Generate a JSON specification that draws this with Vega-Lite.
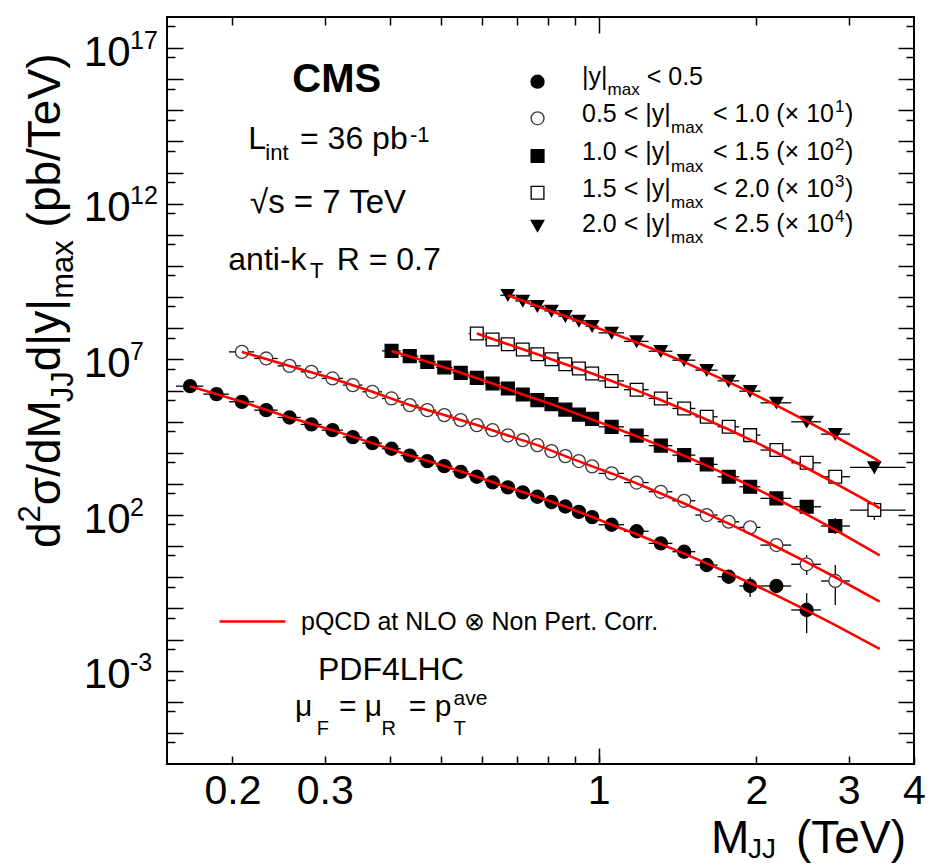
{
"$schema": "https://vega.github.io/schema/vega-lite/v6.json",
"width": 747,
"height": 747,
"autosize": {"type": "none"},
"padding": {"left": 167, "top": 17, "right": 27, "bottom": 102},
"background": "white",
"config": {
  "view": {"stroke": "black", "strokeWidth": 2},
  "font": "Liberation Sans",
  "text": {"font": "Liberation Sans", "color": "black"},
  "axis": {"grid": false, "domain": false, "tickColor": "black", "tickWidth": 1.5, "labelColor": "black", "labelFont": "Liberation Sans", "labelFlush": false, "labelOverlap": false, "labelBound": false}
},
"datasets": {
  "pts": [
    {"s":"s1","x":0.166,"xlo":0.156,"xhi":0.176,"y":1.38e6},
    {"s":"s1","x":0.1865,"xlo":0.176,"xhi":0.197,"y":7.64e5},
    {"s":"s1","x":0.2085,"xlo":0.197,"xhi":0.220,"y":4.33e5},
    {"s":"s1","x":0.232,"xlo":0.220,"xhi":0.244,"y":2.34e5},
    {"s":"s1","x":0.257,"xlo":0.244,"xhi":0.270,"y":1.36e5},
    {"s":"s1","x":0.283,"xlo":0.270,"xhi":0.296,"y":8.13e4},
    {"s":"s1","x":0.3105,"xlo":0.296,"xhi":0.325,"y":5.33e4},
    {"s":"s1","x":0.3395,"xlo":0.325,"xhi":0.354,"y":3.18e4},
    {"s":"s1","x":0.370,"xlo":0.354,"xhi":0.386,"y":2.04e4},
    {"s":"s1","x":0.4025,"xlo":0.386,"xhi":0.419,"y":1.34e4},
    {"s":"s1","x":0.436,"xlo":0.419,"xhi":0.453,"y":8.11e3},
    {"s":"s1","x":0.471,"xlo":0.453,"xhi":0.489,"y":5.40e3},
    {"s":"s1","x":0.5075,"xlo":0.489,"xhi":0.526,"y":3.73e3},
    {"s":"s1","x":0.5455,"xlo":0.526,"xhi":0.565,"y":2.44e3},
    {"s":"s1","x":0.5855,"xlo":0.565,"xhi":0.606,"y":1.69e3},
    {"s":"s1","x":0.6275,"xlo":0.606,"xhi":0.649,"y":1.12e3},
    {"s":"s1","x":0.671,"xlo":0.649,"xhi":0.693,"y":773},
    {"s":"s1","x":0.7165,"xlo":0.693,"xhi":0.740,"y":533},
    {"s":"s1","x":0.764,"xlo":0.740,"xhi":0.788,"y":385},
    {"s":"s1","x":0.813,"xlo":0.788,"xhi":0.838,"y":261},
    {"s":"s1","x":0.864,"xlo":0.838,"xhi":0.890,"y":187},
    {"s":"s1","x":0.917,"xlo":0.890,"xhi":0.944,"y":126},
    {"s":"s1","x":0.972,"xlo":0.944,"xhi":1.000,"y":85.9},
    {"s":"s1","x":1.059,"xlo":1.000,"xhi":1.118,"y":48.6},
    {"s":"s1","x":1.182,"xlo":1.118,"xhi":1.246,"y":30.1},
    {"s":"s1","x":1.3145,"xlo":1.246,"xhi":1.383,"y":12.3},
    {"s":"s1","x":1.4565,"xlo":1.383,"xhi":1.530,"y":6.61},
    {"s":"s1","x":1.6085,"xlo":1.530,"xhi":1.687,"y":2.47},
    {"s":"s1","x":1.7715,"xlo":1.687,"xhi":1.856,"y":1.04},
    {"s":"s1","x":1.9465,"xlo":1.856,"xhi":2.037,"y":0.524},
    {"s":"s1","x":2.1845,"xlo":2.037,"xhi":2.332,"y":0.524},
    {"s":"s1","x":2.4955,"xlo":2.332,"xhi":2.659,"y":0.0889},
    {"s":"s2","x":0.2085,"xlo":0.197,"xhi":0.220,"y":1.74e7},
    {"s":"s2","x":0.232,"xlo":0.220,"xhi":0.244,"y":1.07e7},
    {"s":"s2","x":0.257,"xlo":0.244,"xhi":0.270,"y":6.18e6},
    {"s":"s2","x":0.283,"xlo":0.270,"xhi":0.296,"y":3.97e6},
    {"s":"s2","x":0.3105,"xlo":0.296,"xhi":0.325,"y":2.44e6},
    {"s":"s2","x":0.3395,"xlo":0.325,"xhi":0.354,"y":1.49e6},
    {"s":"s2","x":0.370,"xlo":0.354,"xhi":0.386,"y":9.06e5},
    {"s":"s2","x":0.4025,"xlo":0.386,"xhi":0.419,"y":5.56e5},
    {"s":"s2","x":0.436,"xlo":0.419,"xhi":0.453,"y":3.39e5},
    {"s":"s2","x":0.471,"xlo":0.453,"xhi":0.489,"y":2.34e5},
    {"s":"s2","x":0.5075,"xlo":0.489,"xhi":0.526,"y":1.62e5},
    {"s":"s2","x":0.5455,"xlo":0.526,"xhi":0.565,"y":1.12e5},
    {"s":"s2","x":0.5855,"xlo":0.565,"xhi":0.606,"y":7.73e4},
    {"s":"s2","x":0.6275,"xlo":0.606,"xhi":0.649,"y":5.33e4},
    {"s":"s2","x":0.671,"xlo":0.649,"xhi":0.693,"y":3.61e4},
    {"s":"s2","x":0.7165,"xlo":0.693,"xhi":0.740,"y":2.55e4},
    {"s":"s2","x":0.764,"xlo":0.740,"xhi":0.788,"y":1.76e4},
    {"s":"s2","x":0.813,"xlo":0.788,"xhi":0.838,"y":1.13e4},
    {"s":"s2","x":0.864,"xlo":0.838,"xhi":0.890,"y":7.80e3},
    {"s":"s2","x":0.917,"xlo":0.890,"xhi":0.944,"y":5.40e3},
    {"s":"s2","x":0.972,"xlo":0.944,"xhi":1.000,"y":3.65e3},
    {"s":"s2","x":1.059,"xlo":1.000,"xhi":1.118,"y":2.17e3},
    {"s":"s2","x":1.182,"xlo":1.118,"xhi":1.246,"y":1.10e3},
    {"s":"s2","x":1.3145,"xlo":1.246,"xhi":1.383,"y":557},
    {"s":"s2","x":1.4565,"xlo":1.383,"xhi":1.530,"y":286},
    {"s":"s2","x":1.6085,"xlo":1.530,"xhi":1.687,"y":99.5},
    {"s":"s2","x":1.7715,"xlo":1.687,"xhi":1.856,"y":60.7},
    {"s":"s2","x":1.9465,"xlo":1.856,"xhi":2.037,"y":40.1},
    {"s":"s2","x":2.1845,"xlo":2.037,"xhi":2.332,"y":10.8},
    {"s":"s2","x":2.4955,"xlo":2.332,"xhi":2.659,"y":2.61},
    {"s":"s2","x":2.83,"xlo":2.659,"xhi":3.019,"y":0.759},
    {"s":"s3","x":0.4025,"xlo":0.386,"xhi":0.419,"y":1.87e7},
    {"s":"s3","x":0.436,"xlo":0.419,"xhi":0.453,"y":1.27e7},
    {"s":"s3","x":0.471,"xlo":0.453,"xhi":0.489,"y":8.32e6},
    {"s":"s3","x":0.5075,"xlo":0.489,"xhi":0.526,"y":5.50e6},
    {"s":"s3","x":0.5455,"xlo":0.526,"xhi":0.565,"y":3.69e6},
    {"s":"s3","x":0.5855,"xlo":0.565,"xhi":0.606,"y":2.55e6},
    {"s":"s3","x":0.6275,"xlo":0.606,"xhi":0.649,"y":1.68e6},
    {"s":"s3","x":0.671,"xlo":0.649,"xhi":0.693,"y":1.16e6},
    {"s":"s3","x":0.7165,"xlo":0.693,"xhi":0.740,"y":7.46e5},
    {"s":"s3","x":0.764,"xlo":0.740,"xhi":0.788,"y":4.90e5},
    {"s":"s3","x":0.813,"xlo":0.788,"xhi":0.838,"y":3.65e5},
    {"s":"s3","x":0.864,"xlo":0.838,"xhi":0.890,"y":2.43e5},
    {"s":"s3","x":0.917,"xlo":0.890,"xhi":0.944,"y":1.68e5},
    {"s":"s3","x":0.972,"xlo":0.944,"xhi":1.000,"y":1.22e5},
    {"s":"s3","x":1.059,"xlo":1.000,"xhi":1.118,"y":6.81e4},
    {"s":"s3","x":1.182,"xlo":1.118,"xhi":1.246,"y":3.55e4},
    {"s":"s3","x":1.3145,"xlo":1.246,"xhi":1.383,"y":1.69e4},
    {"s":"s3","x":1.4565,"xlo":1.383,"xhi":1.530,"y":8.39e3},
    {"s":"s3","x":1.6085,"xlo":1.530,"xhi":1.687,"y":4.23e3},
    {"s":"s3","x":1.7715,"xlo":1.687,"xhi":1.856,"y":1.69e3},
    {"s":"s3","x":1.9465,"xlo":1.856,"xhi":2.037,"y":807},
    {"s":"s3","x":2.1845,"xlo":2.037,"xhi":2.332,"y":342},
    {"s":"s3","x":2.4955,"xlo":2.332,"xhi":2.659,"y":184},
    {"s":"s3","x":2.83,"xlo":2.659,"xhi":3.019,"y":44.2},
    {"s":"s4","x":0.5855,"xlo":0.565,"xhi":0.606,"y":6.78e7},
    {"s":"s4","x":0.6275,"xlo":0.606,"xhi":0.649,"y":4.36e7},
    {"s":"s4","x":0.671,"xlo":0.649,"xhi":0.693,"y":3.08e7},
    {"s":"s4","x":0.7165,"xlo":0.693,"xhi":0.740,"y":2.08e7},
    {"s":"s4","x":0.764,"xlo":0.740,"xhi":0.788,"y":1.47e7},
    {"s":"s4","x":0.813,"xlo":0.788,"xhi":0.838,"y":1.01e7},
    {"s":"s4","x":0.864,"xlo":0.838,"xhi":0.890,"y":7.02e6},
    {"s":"s4","x":0.917,"xlo":0.890,"xhi":0.944,"y":5.11e6},
    {"s":"s4","x":0.972,"xlo":0.944,"xhi":1.000,"y":3.52e6},
    {"s":"s4","x":1.059,"xlo":1.000,"xhi":1.118,"y":2.03e6},
    {"s":"s4","x":1.182,"xlo":1.118,"xhi":1.246,"y":1.06e6},
    {"s":"s4","x":1.3145,"xlo":1.246,"xhi":1.383,"y":5.56e5},
    {"s":"s4","x":1.4565,"xlo":1.383,"xhi":1.530,"y":2.65e5},
    {"s":"s4","x":1.6085,"xlo":1.530,"xhi":1.687,"y":1.43e5},
    {"s":"s4","x":1.7715,"xlo":1.687,"xhi":1.856,"y":6.81e4},
    {"s":"s4","x":1.9465,"xlo":1.856,"xhi":2.037,"y":3.68e4},
    {"s":"s4","x":2.1845,"xlo":2.037,"xhi":2.332,"y":1.22e4},
    {"s":"s4","x":2.4955,"xlo":2.332,"xhi":2.659,"y":4.75e3},
    {"s":"s4","x":2.83,"xlo":2.659,"xhi":3.019,"y":1.69e3},
    {"s":"s4","x":3.36,"xlo":3.019,"xhi":3.854,"y":144},
    {"s":"s5","x":0.671,"xlo":0.649,"xhi":0.693,"y":1.15e9},
    {"s":"s5","x":0.7165,"xlo":0.693,"xhi":0.740,"y":7.55e8},
    {"s":"s5","x":0.764,"xlo":0.740,"xhi":0.788,"y":5.11e8},
    {"s":"s5","x":0.813,"xlo":0.788,"xhi":0.838,"y":3.61e8},
    {"s":"s5","x":0.864,"xlo":0.838,"xhi":0.890,"y":2.44e8},
    {"s":"s5","x":0.917,"xlo":0.890,"xhi":0.944,"y":1.72e8},
    {"s":"s5","x":0.972,"xlo":0.944,"xhi":1.000,"y":1.16e8},
    {"s":"s5","x":1.059,"xlo":1.000,"xhi":1.118,"y":7.10e7},
    {"s":"s5","x":1.182,"xlo":1.118,"xhi":1.246,"y":3.78e7},
    {"s":"s5","x":1.3145,"xlo":1.246,"xhi":1.383,"y":1.83e7},
    {"s":"s5","x":1.4565,"xlo":1.383,"xhi":1.530,"y":9.42e6},
    {"s":"s5","x":1.6085,"xlo":1.530,"xhi":1.687,"y":4.50e6},
    {"s":"s5","x":1.7715,"xlo":1.687,"xhi":1.856,"y":2.04e6},
    {"s":"s5","x":1.9465,"xlo":1.856,"xhi":2.037,"y":9.53e5},
    {"s":"s5","x":2.1845,"xlo":2.037,"xhi":2.332,"y":4.02e5},
    {"s":"s5","x":2.4955,"xlo":2.332,"xhi":2.659,"y":9.86e4},
    {"s":"s5","x":2.83,"xlo":2.659,"xhi":3.019,"y":3.97e4},
    {"s":"s5","x":3.36,"xlo":3.019,"xhi":3.854,"y":3.39e3}
  ],
  "yerr": [
    {"s":"s1","x":1.9465,"ylo":0.232,"yhi":1.02},
    {"s":"s1","x":2.4955,"ylo":0.0159,"yhi":0.305},
    {"s":"s2","x":2.4955,"ylo":1.18,"yhi":5.18},
    {"s":"s2","x":2.83,"ylo":0.129,"yhi":2.47},
    {"s":"s3","x":2.83,"ylo":24.4,"yhi":79.8},
    {"s":"s4","x":3.36,"ylo":68.9,"yhi":261},
    {"s":"s5","x":3.36,"ylo":2.07e3,"yhi":5.40e3}
  ],
  "theory": [
    {"s":"s1","x":0.166,"y":1.38e6},{"s":"s1","x":0.2085,"y":4.33e5},{"s":"s1","x":0.257,"y":1.36e5},{"s":"s1","x":0.3105,"y":5.33e4},{"s":"s1","x":0.370,"y":2.04e4},{"s":"s1","x":0.436,"y":8.11e3},{"s":"s1","x":0.5075,"y":3.73e3},{"s":"s1","x":0.5855,"y":1.69e3},{"s":"s1","x":0.671,"y":773},{"s":"s1","x":0.764,"y":385},{"s":"s1","x":0.864,"y":187},{"s":"s1","x":0.972,"y":85.9},{"s":"s1","x":1.059,"y":48.6},{"s":"s1","x":1.182,"y":24.0},{"s":"s1","x":1.3145,"y":11.7},{"s":"s1","x":1.4565,"y":5.74},{"s":"s1","x":1.6085,"y":2.80},{"s":"s1","x":1.7715,"y":1.36},{"s":"s1","x":1.9465,"y":0.656},{"s":"s1","x":2.1845,"y":0.261},{"s":"s1","x":2.4955,"y":0.0863},{"s":"s1","x":2.83,"y":0.0291},{"s":"s1","x":3.44,"y":0.00498},
    {"s":"s2","x":0.2085,"y":1.74e7},{"s":"s2","x":0.257,"y":6.18e6},{"s":"s2","x":0.3105,"y":2.44e6},{"s":"s2","x":0.370,"y":9.06e5},{"s":"s2","x":0.436,"y":3.39e5},{"s":"s2","x":0.5075,"y":1.62e5},{"s":"s2","x":0.5855,"y":7.73e4},{"s":"s2","x":0.671,"y":3.61e4},{"s":"s2","x":0.764,"y":1.76e4},{"s":"s2","x":0.864,"y":7.80e3},{"s":"s2","x":0.972,"y":3.65e3},{"s":"s2","x":1.059,"y":2.17e3},{"s":"s2","x":1.182,"y":1.04e3},{"s":"s2","x":1.3145,"y":492},{"s":"s2","x":1.4565,"y":234},{"s":"s2","x":1.6085,"y":111},{"s":"s2","x":1.7715,"y":52.6},{"s":"s2","x":1.9465,"y":24.7},{"s":"s2","x":2.1845,"y":9.55},{"s":"s2","x":2.4955,"y":3.05},{"s":"s2","x":2.83,"y":1.00},{"s":"s2","x":3.44,"y":0.164},
    {"s":"s3","x":0.4025,"y":1.87e7},{"s":"s3","x":0.471,"y":8.32e6},{"s":"s3","x":0.5455,"y":3.69e6},{"s":"s3","x":0.6275,"y":1.68e6},{"s":"s3","x":0.7165,"y":7.46e5},{"s":"s3","x":0.813,"y":3.65e5},{"s":"s3","x":0.917,"y":1.68e5},{"s":"s3","x":1.059,"y":6.81e4},{"s":"s3","x":1.182,"y":3.38e4},{"s":"s3","x":1.3145,"y":1.66e4},{"s":"s3","x":1.4565,"y":8.04e3},{"s":"s3","x":1.6085,"y":3.87e3},{"s":"s3","x":1.7715,"y":1.85e3},{"s":"s3","x":1.9465,"y":869},{"s":"s3","x":2.1845,"y":333},{"s":"s3","x":2.4955,"y":104},{"s":"s3","x":2.83,"y":33.2},{"s":"s3","x":3.44,"y":5.07},
    {"s":"s4","x":0.5855,"y":6.78e7},{"s":"s4","x":0.671,"y":3.08e7},{"s":"s4","x":0.764,"y":1.47e7},{"s":"s4","x":0.864,"y":7.02e6},{"s":"s4","x":0.972,"y":3.52e6},{"s":"s4","x":1.059,"y":2.03e6},{"s":"s4","x":1.182,"y":1.01e6},{"s":"s4","x":1.3145,"y":4.94e5},{"s":"s4","x":1.4565,"y":2.40e5},{"s":"s4","x":1.6085,"y":1.16e5},{"s":"s4","x":1.7715,"y":5.57e4},{"s":"s4","x":1.9465,"y":2.64e4},{"s":"s4","x":2.1845,"y":1.02e4},{"s":"s4","x":2.4955,"y":3.24e3},{"s":"s4","x":2.83,"y":1.04e3},{"s":"s4","x":3.36,"y":212},{"s":"s4","x":3.44,"y":163},
    {"s":"s5","x":0.671,"y":1.15e9},{"s":"s5","x":0.764,"y":5.11e8},{"s":"s5","x":0.864,"y":2.44e8},{"s":"s5","x":0.972,"y":1.16e8},{"s":"s5","x":1.059,"y":7.10e7},{"s":"s5","x":1.182,"y":3.49e7},{"s":"s5","x":1.3145,"y":1.69e7},{"s":"s5","x":1.4565,"y":8.17e6},{"s":"s5","x":1.6085,"y":3.91e6},{"s":"s5","x":1.7715,"y":1.85e6},{"s":"s5","x":1.9465,"y":8.71e5},{"s":"s5","x":2.1845,"y":3.33e5},{"s":"s5","x":2.4955,"y":1.04e5},{"s":"s5","x":2.83,"y":3.33e4},{"s":"s5","x":3.36,"y":6.65e3},{"s":"s5","x":3.44,"y":5.12e3}
  ],
  "legm": [
    {"s":"s1","x":0.7646,"y":8.34e15},
    {"s":"s2","x":0.7646,"y":5.56e14},
    {"s":"s3","x":0.7646,"y":3.42e13},
    {"s":"s4","x":0.7646,"y":2.26e12},
    {"s":"s5","x":0.7646,"y":1.93e11}
  ],
  "legt": [
    {"s":"s1","x":0.9297,"y":6.537e15,"a":"|y|","b":"max","c":"< 0.5"},
    {"s":"s2","x":0.9297,"y":4.327e14,"a":"0.5 < |y|","b":"max","c":"< 1.0 (× 10","d":"1","e":")"},
    {"s":"s3","x":0.9297,"y":2.544e13,"a":"1.0 < |y|","b":"max","c":"< 1.5 (× 10","d":"2","e":")"},
    {"s":"s4","x":0.9297,"y":1.684e12,"a":"1.5 < |y|","b":"max","c":"< 2.0 (× 10","d":"3","e":")"},
    {"s":"s5","x":0.9297,"y":1.265e11,"a":"2.0 < |y|","b":"max","c":"< 2.5 (× 10","d":"4","e":")"}
  ],
  "exps": [
    {"x":0.15,"v":1e17,"e":"17"},{"x":0.15,"v":1e12,"e":"12"},{"x":0.15,"v":1e7,"e":"7"},{"x":0.15,"v":100,"e":"2"},{"x":0.15,"v":0.001,"e":"-3"}
  ],
  "ann": [
    {"id":"cms","x":0.3163,"y":3.981e15,"t1":"CMS"},
    {"id":"lint","x":0.21446,"y":5.616e13,"t1":"L","t2":"int","t3":"= 36 pb","t4":"-1"},
    {"id":"rs","x":0.21608,"y":4.934e11,"t1":"√s = 7 TeV"},
    {"id":"akt","x":0.1964,"y":7.438e9,"t1":"anti-k","t2":"T","t3":"R = 0.7"},
    {"id":"pdf","x":0.29133,"y":4.998e-4,"t1":"PDF4LHC"},
    {"id":"mu","x":0.2633,"y":3.485e-5,"t1":"μ","t2":"F","t3":"= μ","t4":"R","t5":"= p","t6":"ave","t7":"T"},
    {"id":"xt","x":1.6392,"y":1.383e-9,"t1":"M","t2":"JJ","t3":"(TeV)"},
    {"id":"yt","x":0.0937,"y":8.71,"t1":"d","t2":"2","t3":"σ/dM","t4":"JJ","t5":"d|y|","t6":"max","t7":"(pb/TeV)"}
  ]
},
"encoding": {
  "x": {"field": "x", "type": "quantitative", "scale": {"type": "log", "domain": [0.15, 4], "nice": false}, "axis": null},
  "y": {"field": "y", "type": "quantitative", "scale": {"type": "log", "domain": [1e-6, 1e18], "nice": false}, "axis": null}
},
"layer": [
  {
    "data": {"name": "pts"},
    "mark": {"type": "rule", "color": "black", "strokeWidth": 1.3},
    "encoding": {
      "x": {"field": "xlo", "type": "quantitative", "scale": {"type": "log", "domain": [0.15, 4], "nice": false},
        "axis": {"orient": "bottom", "title": null, "values": [0.2,0.3,0.4,0.5,0.6,0.7,0.8,0.9,1,2,3,4], "tickSize": -8, "format": "~g",
          "labelExpr": "(datum.value < 0.35 || datum.value > 0.95) ? datum.label : ''", "labelFontSize": 41, "labelBaseline": "alphabetic", "labelPadding": 47}},
      "x2": {"field": "xhi"},
      "y": {"field": "y", "type": "quantitative", "scale": {"type": "log", "domain": [1e-6, 1e18], "nice": false},
        "axis": {"orient": "left", "title": null, "values": [1e-5,1e-4,0.001,0.01,0.1,1,10,100,1000,1e4,1e5,1e6,1e7,1e8,1e9,1e10,1e11,1e12,1e13,1e14,1e15,1e16,1e17], "tickSize": -16,
          "labelExpr": "(datum.value == 1e17 || datum.value == 1e12 || datum.value == 1e7 || datum.value == 100 || datum.value == 0.001) ? '10' : ''",
          "labelFontSize": 42, "labelAlign": "right", "labelBaseline": "alphabetic", "labelOffset": 17, "labelPadding": 53}}
    }
  },
  {
    "data": {"name": "yerr"},
    "mark": {"type": "rule", "color": "black", "strokeWidth": 1.3},
    "encoding": {
      "x": {"field": "x", "type": "quantitative", "scale": {"type": "log", "domain": [0.15, 4], "nice": false},
        "axis": {"orient": "top", "title": null, "values": [0.2,0.3,0.4,0.5,0.6,0.7,0.8,0.9,2,3], "tickSize": -8, "labels": false}},
      "y": {"field": "ylo", "type": "quantitative", "scale": {"type": "log", "domain": [1e-6, 1e18], "nice": false},
        "axis": {"orient": "left", "title": null, "values": [5e-6,5e-5,5e-4,0.005,0.05,0.5,5,50,500,5000,5e4,5e5,5e6,5e7,5e8,5e9,5e10,5e11,5e12,5e13,5e14,5e15,5e16,5e17], "tickSize": -8, "labels": false}},
      "y2": {"field": "yhi"}
    }
  },
  {
    "data": {"name": "pts"},
    "mark": {"type": "point", "filled": true, "strokeWidth": 1.3, "opacity": 1},
    "encoding": {
      "x": {"field": "x", "type": "quantitative", "scale": {"type": "log", "domain": [0.15, 4], "nice": false},
        "axis": {"orient": "bottom", "title": null, "values": [1], "tickSize": -16, "labels": false}},
      "y": {"field": "y", "type": "quantitative", "scale": {"type": "log", "domain": [1e-6, 1e18], "nice": false},
        "axis": {"orient": "right", "title": null, "values": [1e-5,1e-4,0.001,0.01,0.1,1,10,100,1000,1e4,1e5,1e6,1e7,1e8,1e9,1e10,1e11,1e12,1e13,1e14,1e15,1e16,1e17], "tickSize": -16, "labels": false}},
      "shape": {"field": "s", "type": "nominal", "scale": {"domain": ["s1","s2","s3","s4","s5"], "range": ["circle","circle","square","square","triangle-down"]}, "legend": null},
      "fill": {"field": "s", "type": "nominal", "scale": {"domain": ["s1","s2","s3","s4","s5"], "range": ["black","white","black","white","black"]}, "legend": null},
      "stroke": {"field": "s", "type": "nominal", "scale": {"domain": ["s1","s2","s3","s4","s5"], "range": ["black","#3a3a3a","black","black","black"]}, "legend": null},
      "size": {"field": "s", "type": "nominal", "scale": {"domain": ["s1","s2","s3","s4","s5"], "range": [170, 160, 160, 170, 205]}, "legend": null}
    }
  },
  {
    "data": {"name": "theory"},
    "mark": {"type": "line", "strokeWidth": 2.6},
    "encoding": {
      "y": {"field": "y", "type": "quantitative", "scale": {"type": "log", "domain": [1e-6, 1e18], "nice": false},
        "axis": {"orient": "right", "title": null, "values": [5e-6,5e-5,5e-4,0.005,0.05,0.5,5,50,500,5000,5e4,5e5,5e6,5e7,5e8,5e9,5e10,5e11,5e12,5e13,5e14,5e15,5e16,5e17], "tickSize": -8, "labels": false}},
      "detail": {"field": "s", "type": "nominal"},
      "color": {"datum": "pQCD at NLO ⊗ Non Pert. Corr.", "type": "nominal", "scale": {"range": ["#ff0000"]},
        "legend": {"orient": "none", "legendX": 51, "legendY": 570, "title": null, "symbolType": "stroke", "symbolStrokeWidth": 2.6, "symbolSize": 4356, "labelFontSize": 25, "labelFont": "Liberation Sans", "labelColor": "black", "labelOffset": 14, "labelLimit": 0, "padding": 0}}
    }
  },
  {
    "data": {"name": "legm"},
    "mark": {"type": "point", "filled": true, "strokeWidth": 1.3, "opacity": 1},
    "encoding": {
      "x": {"field": "x", "type": "quantitative", "scale": {"type": "log", "domain": [0.15, 4], "nice": false},
        "axis": {"orient": "top", "title": null, "values": [1], "tickSize": -16, "labels": false}},
      "shape": {"field": "s", "type": "nominal", "legend": null},
      "fill": {"field": "s", "type": "nominal", "legend": null},
      "stroke": {"field": "s", "type": "nominal", "legend": null},
      "size": {"field": "s", "type": "nominal", "legend": null}
    }
  },
  {
    "data": {"name": "exps"},
    "mark": {"type": "text", "align": "left", "baseline": "alphabetic", "dx": -37, "dy": 0.5, "fontSize": 25},
    "encoding": {
      "y": {"field": "v", "type": "quantitative", "scale": {"type": "log", "domain": [1e-6, 1e18], "nice": false}, "axis": null},
      "text": {"field": "e"}
    }
  },
  {"data": {"name": "legt"}, "mark": {"type": "text", "align": "left", "baseline": "alphabetic", "fontSize": 25}, "encoding": {"text": {"field": "a"}}},
  {"data": {"name": "legt"}, "transform": [{"filter": "datum.s != 's1'"}], "mark": {"type": "text", "align": "left", "baseline": "alphabetic", "fontSize": 17, "dx": 89, "dy": 11.5}, "encoding": {"text": {"field": "b"}}},
  {"data": {"name": "legt"}, "transform": [{"filter": "datum.s == 's1'"}], "mark": {"type": "text", "align": "left", "baseline": "alphabetic", "fontSize": 17, "dx": 25.5, "dy": 10}, "encoding": {"text": {"field": "b"}}},
  {"data": {"name": "legt"}, "transform": [{"filter": "datum.s != 's1'"}], "mark": {"type": "text", "align": "left", "baseline": "alphabetic", "fontSize": 25, "dx": 131}, "encoding": {"text": {"field": "c"}}},
  {"data": {"name": "legt"}, "transform": [{"filter": "datum.s == 's1'"}], "mark": {"type": "text", "align": "left", "baseline": "alphabetic", "fontSize": 25, "dx": 64.7}, "encoding": {"text": {"field": "c"}}},
  {"data": {"name": "legt"}, "transform": [{"filter": "datum.s != 's1'"}], "mark": {"type": "text", "align": "left", "baseline": "alphabetic", "fontSize": 17, "dx": 253, "dy": -10}, "encoding": {"text": {"field": "d"}}},
  {"data": {"name": "legt"}, "transform": [{"filter": "datum.s != 's1'"}], "mark": {"type": "text", "align": "left", "baseline": "alphabetic", "fontSize": 25, "dx": 263}, "encoding": {"text": {"field": "e"}}},
  {"data": {"name": "ann"}, "transform": [{"filter": "datum.id == 'cms'"}], "mark": {"type": "text", "align": "center", "baseline": "alphabetic", "fontSize": 40, "fontWeight": "bold"}, "encoding": {"text": {"field": "t1"}}},
  {"data": {"name": "ann"}, "transform": [{"filter": "datum.id == 'lint' || datum.id == 'akt' || datum.id == 'pdf'"}], "mark": {"type": "text", "align": "left", "baseline": "alphabetic", "fontSize": 32}, "encoding": {"text": {"field": "t1"}}},
  {"data": {"name": "ann"}, "transform": [{"filter": "datum.id == 'rs'"}], "mark": {"type": "text", "align": "left", "baseline": "alphabetic", "fontSize": 33}, "encoding": {"text": {"field": "t1"}}},
  {"data": {"name": "ann"}, "transform": [{"filter": "datum.id == 'lint'"}], "mark": {"type": "text", "align": "left", "baseline": "alphabetic", "fontSize": 22, "dx": 17, "dy": 10.7}, "encoding": {"text": {"field": "t2"}}},
  {"data": {"name": "ann"}, "transform": [{"filter": "datum.id == 'lint'"}], "mark": {"type": "text", "align": "left", "baseline": "alphabetic", "fontSize": 32, "dx": 51.7}, "encoding": {"text": {"field": "t3"}}},
  {"data": {"name": "ann"}, "transform": [{"filter": "datum.id == 'lint'"}], "mark": {"type": "text", "align": "left", "baseline": "alphabetic", "fontSize": 22, "dx": 161.7, "dy": -7.6}, "encoding": {"text": {"field": "t4"}}},
  {"data": {"name": "ann"}, "transform": [{"filter": "datum.id == 'akt'"}], "mark": {"type": "text", "align": "left", "baseline": "alphabetic", "fontSize": 22, "dx": 81.7, "dy": 8}, "encoding": {"text": {"field": "t2"}}},
  {"data": {"name": "ann"}, "transform": [{"filter": "datum.id == 'akt'"}], "mark": {"type": "text", "align": "left", "baseline": "alphabetic", "fontSize": 32, "dx": 108.4}, "encoding": {"text": {"field": "t3"}}},
  {"data": {"name": "ann"}, "transform": [{"filter": "datum.id == 'mu'"}], "mark": {"type": "text", "align": "left", "baseline": "alphabetic", "fontSize": 30}, "encoding": {"text": {"field": "t1"}}},
  {"data": {"name": "ann"}, "transform": [{"filter": "datum.id == 'mu'"}], "mark": {"type": "text", "align": "left", "baseline": "alphabetic", "fontSize": 20, "dx": 21.7, "dy": 19}, "encoding": {"text": {"field": "t2"}}},
  {"data": {"name": "ann"}, "transform": [{"filter": "datum.id == 'mu'"}], "mark": {"type": "text", "align": "left", "baseline": "alphabetic", "fontSize": 30, "dx": 44}, "encoding": {"text": {"field": "t3"}}},
  {"data": {"name": "ann"}, "transform": [{"filter": "datum.id == 'mu'"}], "mark": {"type": "text", "align": "left", "baseline": "alphabetic", "fontSize": 20, "dx": 86.4, "dy": 19}, "encoding": {"text": {"field": "t4"}}},
  {"data": {"name": "ann"}, "transform": [{"filter": "datum.id == 'mu'"}], "mark": {"type": "text", "align": "left", "baseline": "alphabetic", "fontSize": 30, "dx": 113.8}, "encoding": {"text": {"field": "t5"}}},
  {"data": {"name": "ann"}, "transform": [{"filter": "datum.id == 'mu'"}], "mark": {"type": "text", "align": "left", "baseline": "alphabetic", "fontSize": 21, "dx": 158.5, "dy": -11}, "encoding": {"text": {"field": "t6"}}},
  {"data": {"name": "ann"}, "transform": [{"filter": "datum.id == 'mu'"}], "mark": {"type": "text", "align": "left", "baseline": "alphabetic", "fontSize": 20, "dx": 158.5, "dy": 19}, "encoding": {"text": {"field": "t7"}}},
  {"data": {"name": "ann"}, "transform": [{"filter": "datum.id == 'xt'"}], "mark": {"type": "text", "align": "left", "baseline": "alphabetic", "fontSize": 46}, "encoding": {"text": {"field": "t1"}}},
  {"data": {"name": "ann"}, "transform": [{"filter": "datum.id == 'xt'"}], "mark": {"type": "text", "align": "left", "baseline": "alphabetic", "fontSize": 28, "dx": 37, "dy": 5}, "encoding": {"text": {"field": "t2"}}},
  {"data": {"name": "ann"}, "transform": [{"filter": "datum.id == 'xt'"}], "mark": {"type": "text", "align": "left", "baseline": "alphabetic", "fontSize": 46, "dx": 85}, "encoding": {"text": {"field": "t3"}}},
  {"data": {"name": "ann"}, "transform": [{"filter": "datum.id == 'yt'"}], "mark": {"type": "text", "align": "left", "baseline": "alphabetic", "angle": 270, "fontSize": 46}, "encoding": {"text": {"field": "t1"}}},
  {"data": {"name": "ann"}, "transform": [{"filter": "datum.id == 'yt'"}], "mark": {"type": "text", "align": "left", "baseline": "alphabetic", "angle": 270, "fontSize": 31, "dx": 25.6, "dy": -20}, "encoding": {"text": {"field": "t2"}}},
  {"data": {"name": "ann"}, "transform": [{"filter": "datum.id == 'yt'"}], "mark": {"type": "text", "align": "left", "baseline": "alphabetic", "angle": 270, "fontSize": 46, "dx": 42.8}, "encoding": {"text": {"field": "t3"}}},
  {"data": {"name": "ann"}, "transform": [{"filter": "datum.id == 'yt'"}], "mark": {"type": "text", "align": "left", "baseline": "alphabetic", "angle": 270, "fontSize": 31, "dx": 145.7, "dy": 13}, "encoding": {"text": {"field": "t4"}}},
  {"data": {"name": "ann"}, "transform": [{"filter": "datum.id == 'yt'"}], "mark": {"type": "text", "align": "left", "baseline": "alphabetic", "angle": 270, "fontSize": 46, "dx": 176.7}, "encoding": {"text": {"field": "t5"}}},
  {"data": {"name": "ann"}, "transform": [{"filter": "datum.id == 'yt'"}], "mark": {"type": "text", "align": "left", "baseline": "alphabetic", "angle": 270, "fontSize": 31, "dx": 249.2, "dy": 13}, "encoding": {"text": {"field": "t6"}}},
  {"data": {"name": "ann"}, "transform": [{"filter": "datum.id == 'yt'"}], "mark": {"type": "text", "align": "left", "baseline": "alphabetic", "angle": 270, "fontSize": 46, "dx": 320.6}, "encoding": {"text": {"field": "t7"}}}
],
"resolve": {"axis": {"x": "independent", "y": "independent"}}
}
